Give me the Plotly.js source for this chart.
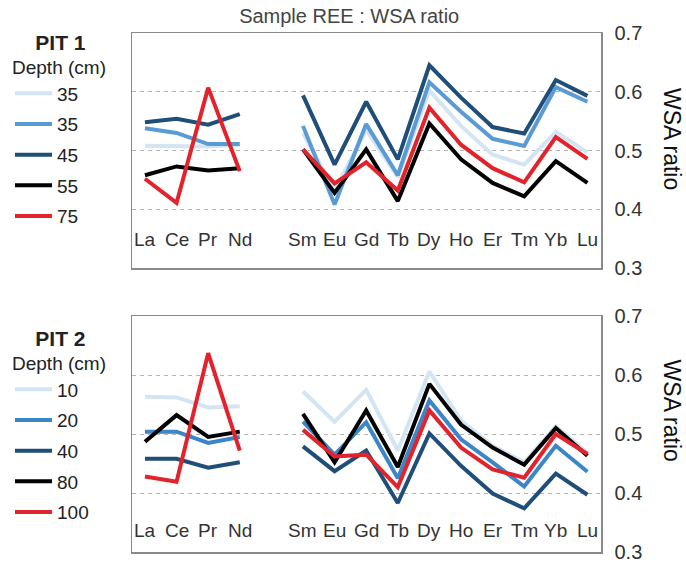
<!DOCTYPE html>
<html>
<head>
<meta charset="utf-8">
<script src="https://cdn.plot.ly/plotly-3.0.1.min.js"></script>
<style>html,body{margin:0;padding:0;background:#fff;}</style>
</head>
<body>
<div id="chart" style="width:686px;height:562px;"></div>
<script>
// Rare earth elements (light REE, then heavy REE)
const lree = ['La', 'Ce', 'Pr', 'Nd'];
const hree = ['Sm', 'Eu', 'Gd', 'Tb', 'Dy', 'Ho', 'Er', 'Tm', 'Yb', 'Lu'];

// PIT 1 — WSA ratio by depth (cm)
const pit1Depths = ['35', '35', '45', '55', '75'];
const pit1_35a = [0.508, 0.508, 0.507, 0.510, 0.530, 0.432, 0.535, 0.455, 0.602, 0.542, 0.493, 0.476, 0.532, 0.497];
const pit1_35b = [0.538, 0.530, 0.511, 0.511, 0.542, 0.408, 0.545, 0.458, 0.616, 0.566, 0.520, 0.508, 0.608, 0.583];
const pit1_45  = [0.548, 0.554, 0.544, 0.562, 0.594, 0.476, 0.583, 0.485, 0.645, 0.590, 0.540, 0.529, 0.620, 0.593];
const pit1_55  = [0.458, 0.473, 0.466, 0.470, 0.502, 0.428, 0.502, 0.414, 0.546, 0.485, 0.445, 0.422, 0.482, 0.445];
const pit1_75  = [0.452, 0.411, 0.607, 0.465, 0.502, 0.444, 0.480, 0.432, 0.573, 0.510, 0.470, 0.446, 0.523, 0.486];

// PIT 2 — WSA ratio by depth (cm)
const pit2Depths = ['10', '20', '40', '80', '100'];
const pit2_10  = [0.563, 0.562, 0.545, 0.547, 0.572, 0.521, 0.575, 0.472, 0.606, 0.523, 0.480, 0.452, 0.513, 0.468];
const pit2_20  = [0.504, 0.504, 0.485, 0.495, 0.521, 0.465, 0.520, 0.425, 0.557, 0.491, 0.452, 0.411, 0.480, 0.436];
const pit2_40  = [0.458, 0.458, 0.443, 0.452, 0.479, 0.437, 0.472, 0.383, 0.501, 0.446, 0.399, 0.374, 0.433, 0.397];
const pit2_80  = [0.487, 0.532, 0.495, 0.504, 0.534, 0.452, 0.540, 0.444, 0.585, 0.516, 0.477, 0.448, 0.510, 0.463];
const pit2_100 = [0.428, 0.419, 0.637, 0.472, 0.507, 0.462, 0.465, 0.410, 0.540, 0.477, 0.440, 0.426, 0.500, 0.466];

const yTicks = [0.3, 0.4, 0.5, 0.6, 0.7];
const yTickText = ['0.3', '0.4', '0.5', '0.6', '0.7'];

const colors = ['#d3e4f3', '#5b9bd5', '#1f4e79', '#000000', '#e3232b'];
const colors2 = ['#d3e4f3', '#3a86c8', '#1f4e79', '#000000', '#e3232b'];

const GAP = ' ';
const catOrder = [...lree, GAP, ...hree];
const FONT = 'Liberation Sans, Arial, sans-serif';

function xs() { return [...lree, null, ...hree]; }
function ys(v) { return [...v.slice(0, lree.length), null, ...v.slice(lree.length)]; }

const traces = [];
const pit1Series = [pit1_35a, pit1_35b, pit1_45, pit1_55, pit1_75];
const pit2Series = [pit2_10, pit2_20, pit2_40, pit2_80, pit2_100];

pit1Series.forEach((v, i) => {
  traces.push({
    type: 'scatter', mode: 'lines', x: xs(), y: ys(v),
    xaxis: 'x', yaxis: 'y', name: pit1Depths[i], legend: 'legend',
    legendgroup: 'p1_' + i, connectgaps: false,
    line: {color: colors[i], width: 4}
  });
});
pit2Series.forEach((v, i) => {
  traces.push({
    type: 'scatter', mode: 'lines', x: xs(), y: ys(v),
    xaxis: 'x2', yaxis: 'y2', name: pit2Depths[i], legend: 'legend2',
    legendgroup: 'p2_' + i, connectgaps: false,
    line: {color: colors2[i], width: 4}
  });
});

const annotations = [];
[['x', 'y', 0.348], ['x2', 'y2', 0.337]].forEach(([xr, yr, ly]) => {
  [...lree, ...hree].forEach(c => {
    annotations.push({
      x: c, y: ly, xref: xr, yref: yr, text: c, showarrow: false,
      font: {family: FONT, size: 19, color: '#333'}, xanchor: 'center', yanchor: 'middle'
    });
  });
});
annotations.push({
  xref: 'paper', yref: 'y domain', x: 1.151, y: 0.55, text: 'WSA ratio', textangle: 90,
  showarrow: false, font: {family: FONT, size: 23, color: '#111'}, xanchor: 'center', yanchor: 'middle'
});
annotations.push({
  xref: 'paper', yref: 'y2 domain', x: 1.151, y: 0.6, text: 'WSA ratio', textangle: 90,
  showarrow: false, font: {family: FONT, size: 23, color: '#111'}, xanchor: 'center', yanchor: 'middle'
});

const xBase = {
  type: 'category', categoryorder: 'array', categoryarray: catOrder,
  range: [-0.41, 14.43], showticklabels: false, ticks: '', showgrid: false, zeroline: false,
  showline: true, mirror: true, linecolor: '#8a8a8a', linewidth: 1.5, fixedrange: true
};
const yBase = {
  range: [0.3, 0.7], side: 'right', tickvals: yTicks, ticktext: yTickText, ticks: '',
  ticklabelstandoff: 8, ticklabeloverflow: 'allow',
  tickfont: {family: FONT, size: 20, color: '#333'},
  showgrid: true, gridcolor: '#b5b5b5', griddash: '4px,4px', gridwidth: 1, zeroline: false,
  showline: true, mirror: true, linecolor: '#8a8a8a', linewidth: 1.5, fixedrange: true
};

const legendBase = {
  xref: 'container', yref: 'container', xanchor: 'left', yanchor: 'top',
  bgcolor: 'rgba(0,0,0,0)', font: {family: FONT, size: 19, color: '#222'},
  tracegroupgap: 3, itemwidth: 37, traceorder: 'grouped'
};

const pad = '&nbsp;&nbsp;&nbsp;&nbsp;';

const layout = {
  width: 686, height: 562,
  margin: {l: 132, r: 85, t: 33, b: 10},
  paper_bgcolor: '#ffffff', plot_bgcolor: '#ffffff',
  font: {family: FONT, color: '#333'},
  title: {
    text: 'Sample REE : WSA ratio', xref: 'container', yref: 'container',
    x: 0.509, y: 1 - 16 / 562, xanchor: 'center', yanchor: 'middle',
    font: {family: FONT, size: 20, color: '#444'}
  },
  xaxis: Object.assign({}, xBase, {anchor: 'y'}),
  yaxis: Object.assign({}, yBase, {anchor: 'x', domain: [0.547, 1]}),
  xaxis2: Object.assign({}, xBase, {anchor: 'y2'}),
  yaxis2: Object.assign({}, yBase, {anchor: 'x2', domain: [0, 0.4547]}),
  legend: Object.assign({}, legendBase, {
    x: 10 / 686, y: 1 - 25 / 562,
    title: {text: '<span style="font-size:21px">' + pad + '<b>PIT 1</b></span><br>Depth (cm)', side: 'top',
            font: {family: FONT, size: 19, color: '#222'}}
  }),
  legend2: Object.assign({}, legendBase, {
    x: 10 / 686, y: 1 - 321 / 562,
    title: {text: '<span style="font-size:21px">' + pad + '<b>PIT 2</b></span><br>Depth (cm)', side: 'top',
            font: {family: FONT, size: 19, color: '#222'}}
  }),
  annotations: annotations,
  showlegend: true
};

Plotly.newPlot('chart', traces, layout, {displayModeBar: false, staticPlot: true});
</script>
</body>
</html>
